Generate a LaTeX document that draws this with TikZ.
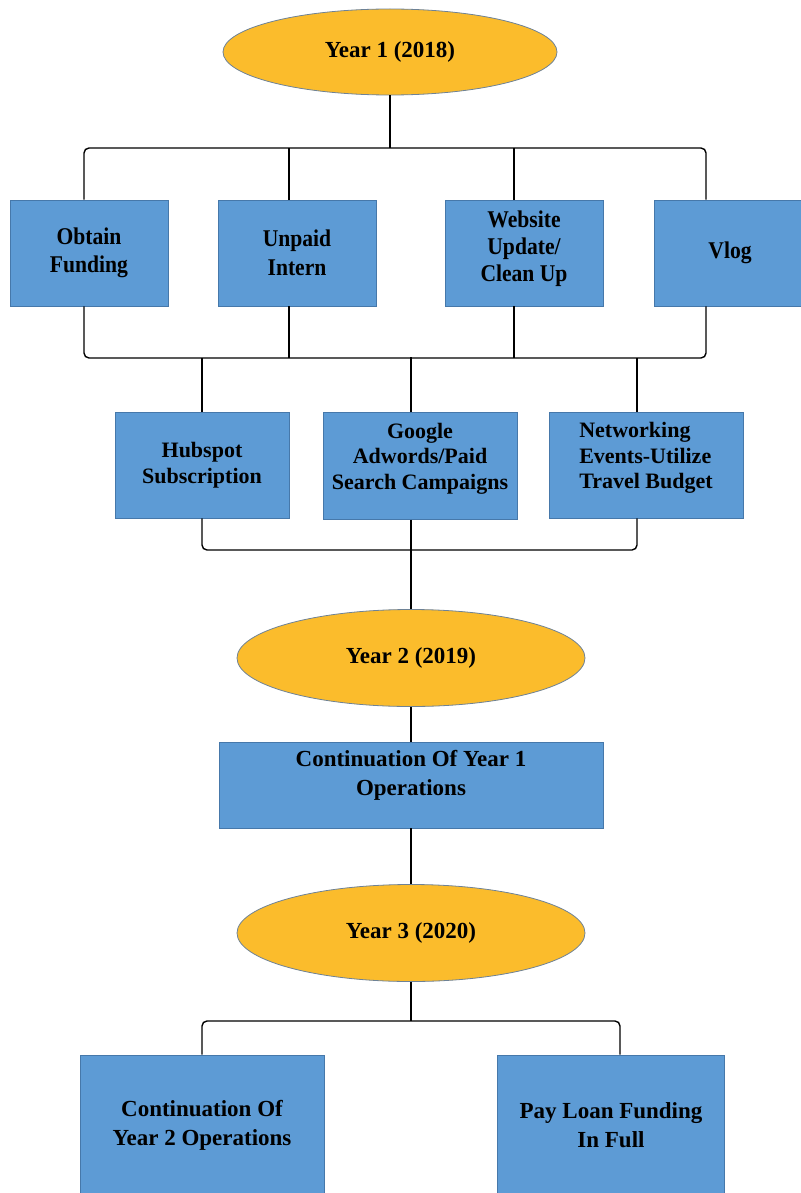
\documentclass[tikz,border=0pt]{standalone}
\usepackage{fontspec}
\setmainfont{Liberation Serif}
\usetikzlibrary{shapes.geometric}
\definecolor{boxblue}{RGB}{93,155,213}
\definecolor{boxedge}{RGB}{70,120,170}
\definecolor{yeargold}{RGB}{251,188,44}
\definecolor{yearedge}{RGB}{110,130,150}
\begin{document}
\begin{tikzpicture}[x=1pt,y=-1pt,
  box/.style={draw=boxedge, fill=boxblue, line width=0.8pt, inner sep=2pt, align=center,
    font=\fontsize{23}{29}\selectfont\bfseries},
  boxtop/.style={box, font=\fontsize{24}{28.5}\selectfont\bfseries\addfontfeature{FakeStretch=0.9}},
  boxsmall/.style={box, font=\fontsize{22}{25.5}\selectfont\bfseries},
  yearnode/.style={ellipse, draw=yearedge, fill=yeargold, line width=0.8pt, inner sep=0pt,
    font=\fontsize{23}{28}\selectfont\bfseries},
  conn/.style={draw=black, line width=1.4pt, rounded corners=5pt}]
\useasboundingbox (0,0) rectangle (800,1193);

% nodes
\node[yearnode, minimum width=334pt, minimum height=86pt] (year1) at (390,52) {Year 1 (2018)};

\node[boxtop, minimum width=158pt, minimum height=106pt] (obtain)  at (89,253)  {Obtain\\Funding};
\node[boxtop, minimum width=158pt, minimum height=106pt] (unpaid)  at (297,253) {Unpaid\\Intern};
\node[boxtop, minimum width=158pt, minimum height=106pt, font=\fontsize{24}{27}\selectfont\bfseries\addfontfeature{FakeStretch=0.9}, text depth=13pt] (website) at (524,253) {Website\\Update/\\Clean Up};
\node[boxtop, minimum width=152pt, minimum height=106pt] (vlog)    at (730,253) {Vlog};

\node[boxsmall, minimum width=174pt, minimum height=106pt] (hubspot) at (202,465) {Hubspot\\Subscription};
\node[boxsmall, minimum width=194pt, minimum height=107pt, text depth=20pt] (google)  at (420,466) {Google\\Adwords/Paid\\Search Campaigns};
\node[boxsmall, minimum width=194pt, minimum height=106pt, align=left, text depth=19pt] (network) at (646,465) {Networking\\Events-Utilize\\Travel Budget};

\node[yearnode, minimum width=348pt, minimum height=97pt] (year2) at (411,658) {Year 2 (2019)};
\node[box, minimum width=384pt, minimum height=86pt, text depth=24pt] (cont1) at (411,785) {Continuation Of Year 1\\Operations};
\node[yearnode, minimum width=348pt, minimum height=97pt] (year3) at (411,933) {Year 3 (2020)};

\node[box, minimum width=244pt, minimum height=140pt] (cont2)   at (202,1125) {Continuation Of\\Year 2 Operations};
\node[box, minimum width=227pt, minimum height=140pt] (payloan) at (611,1125) {Pay Loan Funding\\In Full};

% junctions
\coordinate (j1) at (390,148);
\coordinate (j2) at (390,358);
\coordinate (j3) at (411,550);
\coordinate (j4) at (411,1021);

% connectors
\draw[conn] (year1.south) -- (j1);
\draw[conn] ([xshift=-5pt]obtain.north) |- (j1) -| ([xshift=-24pt]vlog.north);
\draw[conn] ([xshift=-8pt]unpaid.north) -- ++(0,-52);
\draw[conn] ([xshift=-10pt]website.north) -- ++(0,-52);

\draw[conn] ([xshift=-5pt]obtain.south) |- (j2) -| ([xshift=-24pt]vlog.south);
\draw[conn] ([xshift=-8pt]unpaid.south) -- ++(0,52);
\draw[conn] ([xshift=-10pt]website.south) -- ++(0,52);

\draw[conn] (hubspot.north) -- ++(0,-54);
\draw[conn] ([xshift=-9pt]google.north) -- ++(0,-55);
\draw[conn] ([xshift=-9pt]network.north) -- ++(0,-54);

\draw[conn] (hubspot.south) |- (j3) -| ([xshift=-9pt]network.south);
\draw[conn] ([xshift=-9pt]google.south) -- (year2.north);

\draw[conn] (year2.south) -- (cont1.north);
\draw[conn] (cont1.south) -- (year3.north);
\draw[conn] (year3.south) -- (j4);
\draw[conn] (cont2.north) |- (j4) -| ([xshift=9pt]payloan.north);
\end{tikzpicture}
\end{document}
